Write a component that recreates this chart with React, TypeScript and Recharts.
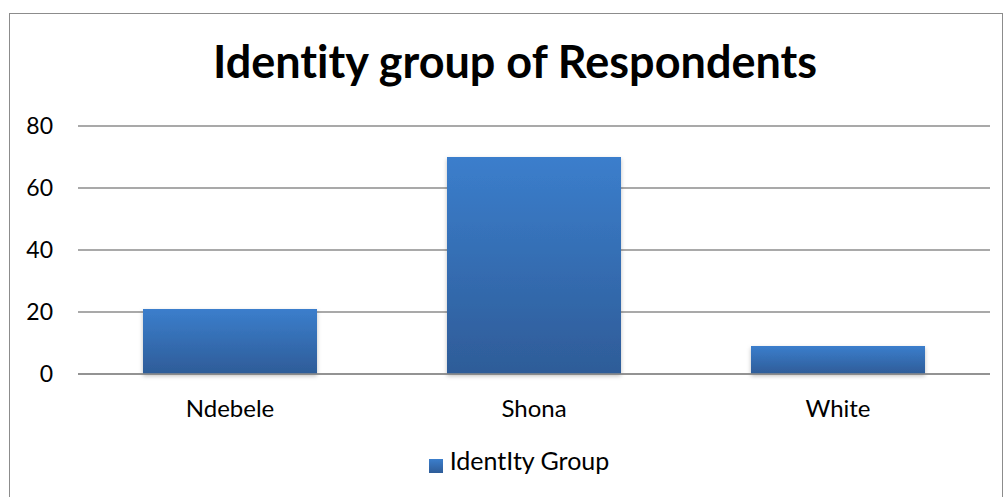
import { BarChart, Bar, XAxis, YAxis, CartesianGrid, Legend } from "recharts";

const categories = ["Ndebele", "Shona", "White"];
const identityGroup = [21, 70, 9];
const yTicks = [0, 20, 40, 60, 80];

const data = categories.map((name, i) => ({ name, value: identityGroup[i] }));

const font = "Lato, 'Open Sans', sans-serif";

export default function App() {
  return (
    <div
      style={{
        position: "absolute",
        left: 0,
        top: 0,
        width: 1003,
        height: 497,
        background: "#fff",
        fontFamily: font,
        fontVariantLigatures: "none",
      }}
    >
      <div
        style={{
          position: "absolute",
          left: 9,
          top: 13,
          width: 992,
          height: 500,
          border: "1px solid #8c8c8c",
        }}
      />
      <div
        style={{
          position: "absolute",
          left: 0,
          width: 1030,
          top: 39,
          lineHeight: "45px",
          fontSize: 45,
          fontWeight: 700,
          textAlign: "center",
          color: "#000",
        }}
      >
        Identity group of Respondents
      </div>
      <div style={{ position: "absolute", left: 0, top: 0 }}>
        <BarChart
          width={1003}
          height={497}
          data={data}
          margin={{ top: 126, right: 13, left: 0, bottom: 22 }}
        >
          <defs>
            <linearGradient id="barGrad" x1="0" y1="0" x2="0" y2="1">
              <stop offset="0%" stopColor="#3b7ecc" />
              <stop offset="100%" stopColor="#2e5c98" />
            </linearGradient>
            <filter id="shadow" x="-10%" y="-10%" width="120%" height="130%">
              <feDropShadow dx="0" dy="2" stdDeviation="2" floodColor="#000" floodOpacity="0.25" />
            </filter>
          </defs>
          <CartesianGrid vertical={false} stroke="#8c8c8c" strokeWidth={1.5} />
          <XAxis
            dataKey="name"
            height={71}
            tickLine={false}
            tickSize={0}
            tickMargin={26}
            axisLine={{ stroke: "#8c8c8c", strokeWidth: 1.5 }}
            tick={{ fill: "#000", fontSize: 24, fontFamily: font }}
          />
          <YAxis
            width={78}
            domain={[0, 80]}
            ticks={yTicks}
            axisLine={false}
            tickLine={false}
            tickSize={0}
            tickMargin={25}
            tick={{ fill: "#000", fontSize: 23, fontFamily: font }}
          />
          <Legend
            verticalAlign="bottom"
            iconType="square"
            iconSize={14}
            wrapperStyle={{ paddingLeft: 58, boxSizing: "border-box" }}
            formatter={(v) => (
              <span style={{ color: "#000", fontSize: 25, fontFamily: font, paddingLeft: 3 }}>{v}</span>
            )}
          />
          <Bar
            dataKey="value"
            name="IdentIty Group"
            fill="url(#barGrad)"
            barSize={174}
            filter="url(#shadow)"
            isAnimationActive={false}
          />
        </BarChart>
      </div>
    </div>
  );
}
